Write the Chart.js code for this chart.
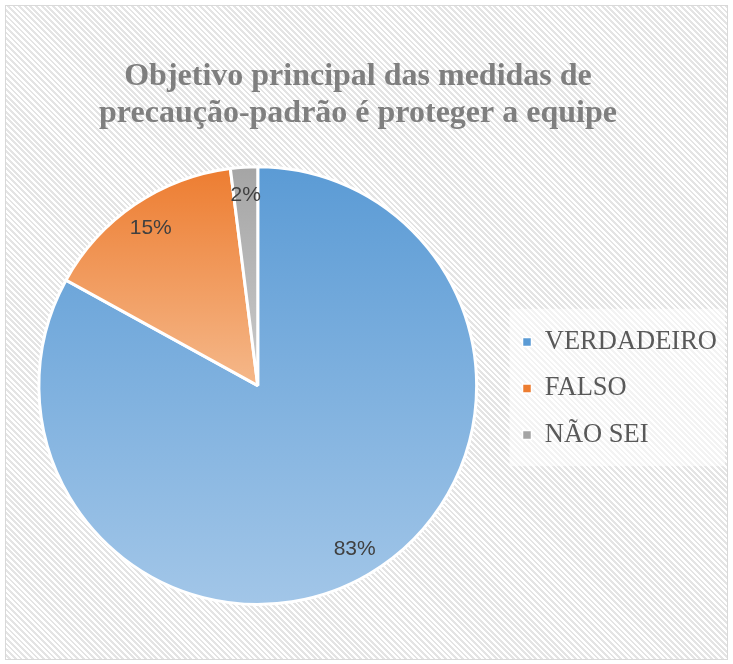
<!DOCTYPE html>
<html>
<head>
<meta charset="utf-8">
<script src="https://cdn.jsdelivr.net/npm/chart.js@4"></script>
<style>
  body { margin: 0; background: #fff; overflow: hidden; }
  #fundo {
    position: absolute; left: 5px; top: 5px; width: 721px; height: 653px;
    border: 1px solid #d9d9d9;
    background: repeating-linear-gradient(45deg, #ffffff 0px, #ffffff 2px, #e4e4e4 2px, #e4e4e4 4px);
  }
  #grafico { position: absolute; left: 5px; top: 5px; }
</style>
</head>
<body>
<div id="fundo"></div>
<canvas id="grafico" width="722" height="655"></canvas>
<script>
// Datos del gráfico
const categorias = ['VERDADEIRO', 'FALSO', 'NÃO SEI'];
const porcentajes = [83, 15, 2];
const coloresArriba = ['#5b9bd5', '#ed7d31', '#a5a5a5'];
const coloresAbajo = ['#a2c6e8', '#f5b88a', '#cbcbcb'];

// Degradado vertical por porción, según la caja de cada sector
const degradadoPorciones = {
  id: 'degradadoPorciones',
  beforeDatasetsDraw(chart) {
    const ctx = chart.ctx;
    chart.getDatasetMeta(0).data.forEach((arc, i) => {
      const { x, y, startAngle, endAngle, outerRadius } = arc.getProps(['x', 'y', 'startAngle', 'endAngle', 'outerRadius'], true);
      let ys = [y, y + Math.sin(startAngle) * outerRadius, y + Math.sin(endAngle) * outerRadius];
      const TAU = Math.PI * 2;
      const contiene = (a) => {
        let t = a;
        while (t < startAngle) t += TAU;
        return t <= endAngle;
      };
      if (contiene(-Math.PI / 2)) ys.push(y - outerRadius);
      if (contiene(Math.PI / 2)) ys.push(y + outerRadius);
      const g = ctx.createLinearGradient(0, Math.min(...ys), 0, Math.max(...ys));
      g.addColorStop(0, coloresArriba[i]);
      g.addColorStop(1, coloresAbajo[i]);
      arc.options.backgroundColor = g;
    });
  }
};

// Fondo blanco translúcido detrás de la leyenda
const fondoLeyenda = {
  id: 'fondoLeyenda',
  beforeDraw(chart) {
    const cajas = chart.legend.legendHitBoxes;
    if (!cajas || !cajas.length) return;
    const izq = Math.min(...cajas.map(c => c.left)) - 13;
    const arriba = cajas[0].top - 20;
    const abajo = cajas[cajas.length - 1].top + cajas[cajas.length - 1].height + 18;
    const ctx = chart.ctx;
    ctx.save();
    ctx.fillStyle = 'rgba(255,255,255,0.55)';
    ctx.fillRect(izq, arriba, 720 - izq, abajo - arriba);
    ctx.restore();
  }
};

// Etiquetas de porcentaje dentro de cada porción
const etiquetas = {
  id: 'etiquetas',
  afterDatasetsDraw(chart) {
    const ctx = chart.ctx;
    ctx.save();
    ctx.font = '21px "Liberation Sans", Arial, sans-serif';
    ctx.fillStyle = '#404040';
    ctx.textAlign = 'center';
    ctx.textBaseline = 'middle';
    chart.getDatasetMeta(0).data.forEach((arc, i) => {
      const { x, y, startAngle, endAngle, outerRadius } = arc.getProps(['x', 'y', 'startAngle', 'endAngle', 'outerRadius'], true);
      const medio = (startAngle + endAngle) / 2;
      const r = outerRadius * 0.87;
      ctx.fillText(porcentajes[i] + '%', x + Math.cos(medio) * r, y + Math.sin(medio) * r);
    });
    ctx.restore();
  }
};

new Chart(document.getElementById('grafico'), {
  type: 'pie',
  data: {
    labels: categorias,
    datasets: [{
      data: porcentajes,
      backgroundColor: coloresArriba,
      borderColor: '#ffffff',
      borderWidth: 3
    }]
  },
  options: {
    responsive: false,
    animation: false,
    layout: { padding: { left: 8, bottom: 54 } },
    plugins: {
      tooltip: { enabled: false },
      title: {
        display: true,
        // espacios finales para centrar el título como en el original
        text: ['Objetivo principal das medidas de\u00a0\u00a0\u00a0',
               'precaução-padrão é proteger a equipe\u00a0\u00a0\u00a0'],
        color: '#7f7f7f',
        font: { family: '"Liberation Serif", "Times New Roman", serif', size: 32, weight: 'bold', lineHeight: 1.16 },
        padding: { top: 53, bottom: 33 }
      },
      legend: {
        position: 'right',
        title: {
          display: true,
          text: ' ',
          font: { size: 10 },
          padding: { top: 0, bottom: 154 }
        },
        labels: {
          color: '#595959',
          font: { family: '"Liberation Serif", "Times New Roman", serif', size: 26.5 },
          boxWidth: 9,
          boxHeight: 9,
          padding: 20,
          generateLabels(chart) {
            const items = Chart.controllers.pie.overrides.plugins.legend.labels.generateLabels(chart);
            items.forEach(it => { it.lineWidth = 1.5; });
            return items;
          }
        }
      }
    }
  },
  plugins: [fondoLeyenda, degradadoPorciones, etiquetas]
});
</script>
</body>
</html>
